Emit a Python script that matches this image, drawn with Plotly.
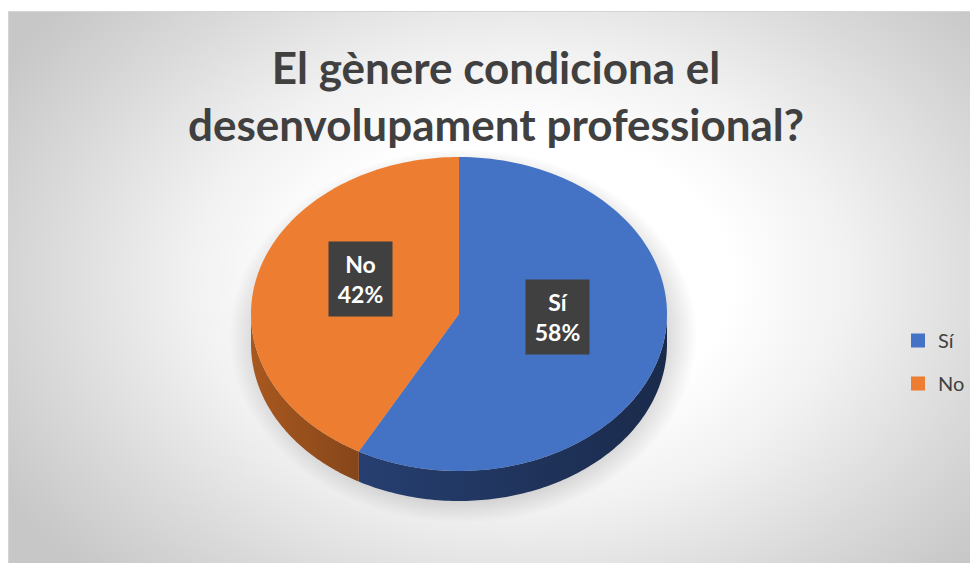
import numpy as np
import plotly.graph_objects as go

labels = ["Sí", "No"]
values = [58, 42]

title_lines = ["El gènere condiciona el", "desenvolupament professional?"]

face_colors = {"Sí": "#4472C4", "No": "#ED7D31"}
side_scales = {
    "Sí": [[0, "#263f70"], [1, "#1a2a4b"]],
    "No": [[0, "#a8581f"], [1, "#86461a"]],
}

# la pàgina afegeix un marge de 8 px: els eixos treballen en píxels de pàgina
W, H = 978, 563
OX, OY = 8, 8

# geometria del pastís
CX, CY = 459, 314
RX, RY = 208, 157
DEPTH = 30


def arc(t0, t1, n=120):
    # angles en graus, des de dalt i en sentit horari
    t = np.radians(np.linspace(t0, t1, n))
    return CX + RX * np.sin(t), CY - RY * np.cos(t)


fig = go.Figure()

# fons amb degradat radial
gx, gy, gw, gh = 520, 280, 600, 420
fig.add_trace(go.Scatter(
    x=[gx - gw, gx + gw, gx + gw, gx - gw, gx - gw],
    y=[gy - gh, gy - gh, gy + gh, gy + gh, gy - gh],
    mode="none", fill="toself", hoverinfo="skip", showlegend=False,
    fillgradient=dict(type="radial", colorscale=[
        [0, "#ffffff"], [0.35, "#ffffff"], [0.55, "#f1f1f1"], [0.8, "#d9d9d9"], [1, "#c7c7c7"]]),
))

# ombra
t = np.radians(np.linspace(0, 360, 181))
fig.add_trace(go.Scatter(
    x=CX + 4 + (RX + 26) * np.sin(t), y=CY + 22 + (RY + 30) * np.cos(t),
    mode="none", fill="toself", hoverinfo="skip", showlegend=False,
    fillgradient=dict(type="radial", colorscale=[
        [0, "rgba(0,0,0,0.30)"], [0.8, "rgba(0,0,0,0.22)"], [1, "rgba(0,0,0,0)"]]),
))

total = sum(values)
slices = []
start = 0.0
for lab, v in zip(labels, values):
    end = start + v / total * 360
    slices.append((lab, v, start, end))
    start = end

# laterals (només la meitat frontal és visible)
for lab, v, t0, t1 in slices:
    a, b = max(t0, 90), min(t1, 270)
    if a >= b:
        continue
    xs, ys = arc(a, b)
    fig.add_trace(go.Scatter(
        x=np.concatenate([xs, xs[::-1], xs[:1]]),
        y=np.concatenate([ys, ys[::-1] + DEPTH, ys[:1]]),
        mode="none", fill="toself", hoverinfo="skip", showlegend=False,
        fillgradient=dict(type="horizontal", colorscale=side_scales[lab]),
    ))

# cara superior
for lab, v, t0, t1 in slices:
    xs, ys = arc(t0, t1)
    fig.add_trace(go.Scatter(
        x=np.concatenate([[CX], xs, [CX]]), y=np.concatenate([[CY], ys, [CY]]),
        mode="none", fill="toself", fillcolor=face_colors[lab],
        hoveron="fills", name=lab, text=f"{lab}: {v / total:.0%}", hoverinfo="text",
        showlegend=False,
    ))

# etiquetes de dades
for lab, v, t0, t1 in slices:
    mid = np.radians((t0 + t1) / 2)
    fig.add_annotation(
        x=CX + 0.49 * RX * np.sin(mid), y=CY - 0.49 * RY * np.cos(mid) - 16,
        text=f"{lab}<br>{v / total:.0%}", showarrow=False,
        font=dict(family="Lato", size=23, color="white", weight="bold"),
        bgcolor="#404040", width=51, height=62, borderpad=6, align="center",
    )

# títol
fig.add_annotation(
    x=496, y=95, xanchor="center", yanchor="middle", showarrow=False,
    text="<br>".join(title_lines), align="center",
    font=dict(family="Lato", size=44, color="#404040", weight="bold"),
)

# llegenda
for lab in labels:
    fig.add_trace(go.Scatter(
        x=[None], y=[None], mode="markers", name=lab, legendgroup=lab,
        marker=dict(symbol="square", size=14, color=face_colors[lab]),
    ))

# marc
fig.add_shape(type="rect", x0=OX, x1=W + OX, y0=OY, y1=11, fillcolor="white", line_width=0, layer="above")
fig.add_shape(type="line", x0=OX, x1=W + OX, y0=11.5, y1=11.5, line=dict(color="#d4d4d4", width=1), layer="above")
fig.add_shape(type="line", x0=OX + 0.5, x1=OX + 0.5, y0=11, y1=H + OY, line=dict(color="#d4d4d4", width=1), layer="above")

fig.update_layout(
    width=W, height=H,
    margin=dict(t=0, b=0, l=0, r=0),
    paper_bgcolor="white", plot_bgcolor="white",
    xaxis=dict(range=[OX, W + OX], visible=False, fixedrange=True),
    yaxis=dict(range=[H + OY, OY], visible=False, fixedrange=True),
    legend=dict(
        x=(898 - OX) / W, xanchor="left", y=1 - (362 - OY) / H, yanchor="middle",
        font=dict(family="Lato", size=20, color="#404040"),
        tracegroupgap=14, bgcolor="rgba(0,0,0,0)",
    ),
    showlegend=True,
)

fig.write_html("out.html")
